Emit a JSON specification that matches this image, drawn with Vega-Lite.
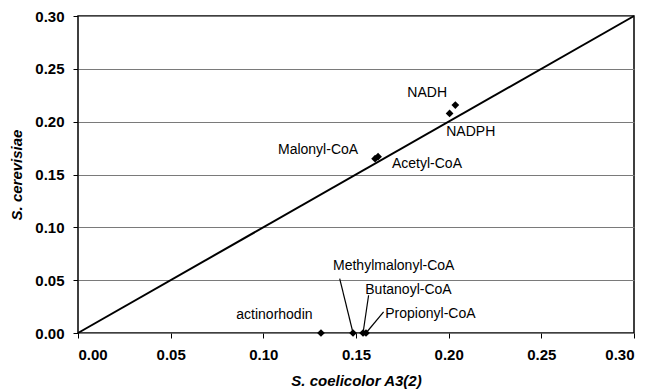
{
  "$schema": "https://vega.github.io/schema/vega-lite/v6.json",
  "width": 556,
  "height": 317,
  "autosize": {"type": "none"},
  "padding": {"left": 78, "top": 16, "right": 14, "bottom": 58},
  "background": "white",
  "config": {
    "font": "Liberation Sans",
    "view": {"stroke": "black", "strokeWidth": 1.5},
    "axis": {
      "domain": false,
      "tickColor": "black",
      "tickSize": 5,
      "labelFont": "Liberation Sans",
      "labelFontSize": 15,
      "labelFontWeight": "bold",
      "labelColor": "black",
      "titleFont": "Liberation Sans",
      "titleFontSize": 15,
      "titleFontWeight": "bold",
      "titleFontStyle": "italic",
      "titleColor": "black"
    }
  },
  "datasets": {
    "points": [
      {"name": "NADH", "coelicolor": 0.2036, "cerevisiae": 0.2157},
      {"name": "NADPH", "coelicolor": 0.2005, "cerevisiae": 0.2078},
      {"name": "Malonyl-CoA", "coelicolor": 0.1603, "cerevisiae": 0.1650},
      {"name": "Acetyl-CoA", "coelicolor": 0.1619, "cerevisiae": 0.1669},
      {"name": "actinorhodin", "coelicolor": 0.1311, "cerevisiae": 0.0},
      {"name": "Methylmalonyl-CoA", "coelicolor": 0.1484, "cerevisiae": 0.0},
      {"name": "Butanoyl-CoA", "coelicolor": 0.1538, "cerevisiae": 0.0},
      {"name": "Propionyl-CoA", "coelicolor": 0.1554, "cerevisiae": 0.0}
    ],
    "labels": [
      {"name": "NADH", "lx": 0.1777, "ly": 0.2271},
      {"name": "NADPH", "lx": 0.1987, "ly": 0.1904},
      {"name": "Malonyl-CoA", "lx": 0.1079, "ly": 0.1731},
      {"name": "Acetyl-CoA", "lx": 0.1694, "ly": 0.1595},
      {"name": "actinorhodin", "lx": 0.0854, "ly": 0.0168},
      {"name": "Methylmalonyl-CoA", "lx": 0.1376, "ly": 0.0630},
      {"name": "Butanoyl-CoA", "lx": 0.1550, "ly": 0.0404},
      {"name": "Propionyl-CoA", "lx": 0.1658, "ly": 0.0184}
    ],
    "leaders": [
      {"name": "Methylmalonyl-CoA", "x1": 0.1412, "y1": 0.0515, "x2": 0.1484, "y2": 0.0},
      {"name": "Butanoyl-CoA", "x1": 0.1568, "y1": 0.0357, "x2": 0.1538, "y2": 0.0},
      {"name": "Propionyl-CoA", "x1": 0.1649, "y1": 0.0199, "x2": 0.1554, "y2": 0.0}
    ],
    "diagonal": [
      {"coelicolor": 0.0, "cerevisiae": 0.0},
      {"coelicolor": 0.3, "cerevisiae": 0.3}
    ]
  },
  "layer": [
    {
      "data": {"name": "diagonal"},
      "mark": {"type": "line", "color": "black", "strokeWidth": 2},
      "encoding": {
        "x": {
          "field": "coelicolor",
          "type": "quantitative",
          "scale": {"domain": [0, 0.3], "nice": false},
          "axis": {
            "title": "S. coelicolor A3(2)",
            "values": [0, 0.05, 0.1, 0.15, 0.2, 0.25, 0.3],
            "format": ".2f",
            "grid": false,
            "labelPadding": 9,
            "titlePadding": 11
          }
        },
        "y": {
          "field": "cerevisiae",
          "type": "quantitative",
          "scale": {"domain": [0, 0.3], "nice": false},
          "axis": {
            "title": "S. cerevisiae",
            "values": [0, 0.05, 0.1, 0.15, 0.2, 0.25, 0.3],
            "format": ".2f",
            "grid": true,
            "gridColor": "#7a7a7a",
            "gridWidth": 1.2,
            "labelPadding": 9,
            "titlePadding": 10
          }
        }
      }
    },
    {
      "data": {"name": "leaders"},
      "mark": {"type": "rule", "color": "black", "strokeWidth": 1.2},
      "encoding": {
        "x": {"field": "x1", "type": "quantitative"},
        "y": {"field": "y1", "type": "quantitative"},
        "x2": {"field": "x2"},
        "y2": {"field": "y2"}
      }
    },
    {
      "data": {"name": "points"},
      "mark": {"type": "point", "shape": "diamond", "filled": true, "color": "black", "opacity": 1, "size": 60},
      "encoding": {
        "x": {"field": "coelicolor", "type": "quantitative"},
        "y": {"field": "cerevisiae", "type": "quantitative"}
      }
    },
    {
      "data": {"name": "labels"},
      "mark": {"type": "text", "align": "left", "baseline": "middle", "fontSize": 14, "font": "Liberation Sans", "color": "black"},
      "encoding": {
        "x": {"field": "lx", "type": "quantitative"},
        "y": {"field": "ly", "type": "quantitative"},
        "text": {"field": "name"}
      }
    }
  ]
}
